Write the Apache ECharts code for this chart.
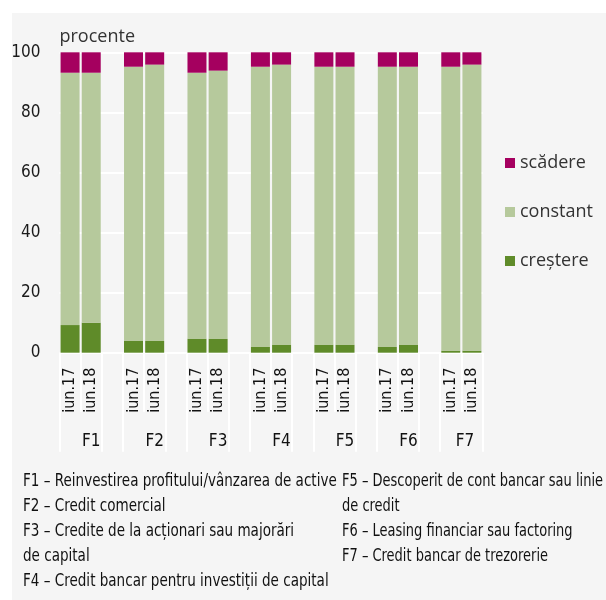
<!DOCTYPE html>
<html>
<head>
<meta charset="utf-8">
<script src="https://cdn.jsdelivr.net/npm/echarts@6/dist/echarts.min.js"></script>
<style>
  html, body { margin: 0; padding: 0; background: #fff; }
  #panel { position: absolute; left: 12px; top: 13px; width: 594px; height: 587px; background: #f5f5f5; }
  #chart { position: absolute; left: 0; top: 0; width: 606px; height: 600px; }
</style>
</head>
<body>
<div id="panel"></div>
<div id="chart"></div>
<script>
// groups F1..F7, two surveys each
const groups = ['F1', 'F2', 'F3', 'F4', 'F5', 'F6', 'F7'];
const periods = ['iun.17', 'iun.18'];

// values per bar, in order F1 iun.17, F1 iun.18, F2 iun.17 ...
const crestere = [9.2, 10.0, 3.9, 3.9, 4.6, 4.6, 1.9, 2.6, 2.6, 2.6, 1.9, 2.6, 0.7, 0.7];
const constant = [84.0, 83.2, 91.3, 92.0, 88.6, 89.3, 93.3, 93.3, 92.6, 92.6, 93.3, 92.6, 94.5, 95.2];
const scadere = [6.8, 6.8, 4.8, 4.1, 6.8, 6.1, 4.8, 4.1, 4.8, 4.8, 4.8, 4.8, 4.8, 4.1];

const notesLeft = [
  'F1 – Reinvestirea profitului/vânzarea de active',
  'F2 – Credit comercial',
  'F3 – Credite de la acționari sau majorări',
  'de capital',
  'F4 – Credit bancar pentru investiții de capital'
];
const notesRight = [
  'F5 – Descoperit de cont bancar sau linie',
  'de credit',
  'F6 – Leasing financiar sau factoring',
  'F7 – Credit bancar de trezorerie'
];

const narrow = '"Liberation Sans Narrow", "DejaVu Sans Condensed", sans-serif';
const light = '"Open Sans", sans-serif';

// slots: two bars per group, then an empty slot (none after the last group)
const slots = [];
groups.forEach((g, i) => {
  slots.push(periods[0], periods[1]);
  if (i < groups.length - 1) slots.push('');
});
function spread(arr) {
  const out = [];
  groups.forEach((g, i) => {
    out.push(arr[2 * i], arr[2 * i + 1]);
    if (i < groups.length - 1) out.push(null);
  });
  return out;
}

const chart = echarts.init(document.getElementById('chart'));

// footnote text, squeezed a bit to match the condensed face of the original
const notes = [];
function addNote(t, x, y, sx) {
  notes.push({ type: 'text', x: x, y: y, scaleX: sx,
    style: { text: t, fontFamily: narrow, fontSize: 17, fill: '#111', verticalAlign: 'middle' } });
}
notesLeft.forEach((t, i) => addNote(t, 23, 482 + i * 25, 0.885));
notesRight.forEach((t, i) => addNote(t, 342, 482 + i * 25, 0.85));

chart.setOption({
  animation: false,
  backgroundColor: 'transparent',
  grid: { left: 59.5, right: 123.5, top: 52.3, bottom: 247.3, containLabel: false },
  legend: {
    orient: 'vertical',
    left: 500,
    top: 148,
    itemWidth: 10,
    itemHeight: 10,
    itemGap: 29,
    icon: 'rect',
    data: ['scădere', 'constant', 'creștere'],
    textStyle: { fontFamily: light, fontSize: 18, color: '#333', lineHeight: 20 }
  },
  xAxis: [
    {
      type: 'category',
      data: slots,
      position: 'bottom',
      axisLine: { show: false },
      axisTick: { show: true, interval: 0, length: 59, lineStyle: { color: '#fff', width: 2 } },
      axisLabel: { interval: 0, rotate: 90, margin: 15, fontFamily: narrow, fontSize: 16, color: '#111' },
      splitLine: { show: false }
    },
    {
      type: 'category',
      data: slots,
      position: 'bottom',
      axisLine: { show: false },
      axisTick: {
        show: true,
        interval: function (i) { return i % 3 !== 1; },
        length: 99,
        lineStyle: { color: '#fff', width: 2 }
      },
      axisLabel: {
        interval: 0,
        margin: 80,
        formatter: function (v, i) {
          if (i % 3 !== 1) return '';
          const g = groups[(i - 1) / 3];
          return i === slots.length - 1 ? '{s|' + g + '}' : '{a|' + g + '}';
        },
        rich: {
          a: { fontFamily: narrow, fontSize: 17, color: '#111' },
          s: { fontFamily: narrow, fontSize: 17, color: '#111', padding: [0, 14, 0, 0] }
        }
      },
      splitLine: { show: false }
    }
  ],
  yAxis: {
    type: 'value',
    min: 0,
    max: 100,
    interval: 20,
    name: 'procente',
    nameLocation: 'end',
    nameGap: 6,
    nameTextStyle: { fontFamily: light, fontSize: 18, color: '#333', align: 'left', verticalAlign: 'bottom' },
    axisLine: { show: false },
    axisTick: { show: false },
    axisLabel: { fontFamily: narrow, fontSize: 17, color: '#1a1a1a', margin: 19, padding: [4, 0, 0, 0] },
    splitLine: { lineStyle: { color: '#fff', width: 2 } }
  },
  series: [
    { name: 'creștere', type: 'bar', stack: 'total', barWidth: 19, xAxisIndex: 0,
      itemStyle: { color: '#5f8b29' }, data: spread(crestere) },
    { name: 'constant', type: 'bar', stack: 'total', barWidth: 19, xAxisIndex: 0,
      itemStyle: { color: '#b6c99c' }, data: spread(constant) },
    { name: 'scădere', type: 'bar', stack: 'total', barWidth: 19, xAxisIndex: 0,
      itemStyle: { color: '#a5005f' }, data: spread(scadere) }
  ],
  graphic: notes
});
</script>
</body>
</html>
